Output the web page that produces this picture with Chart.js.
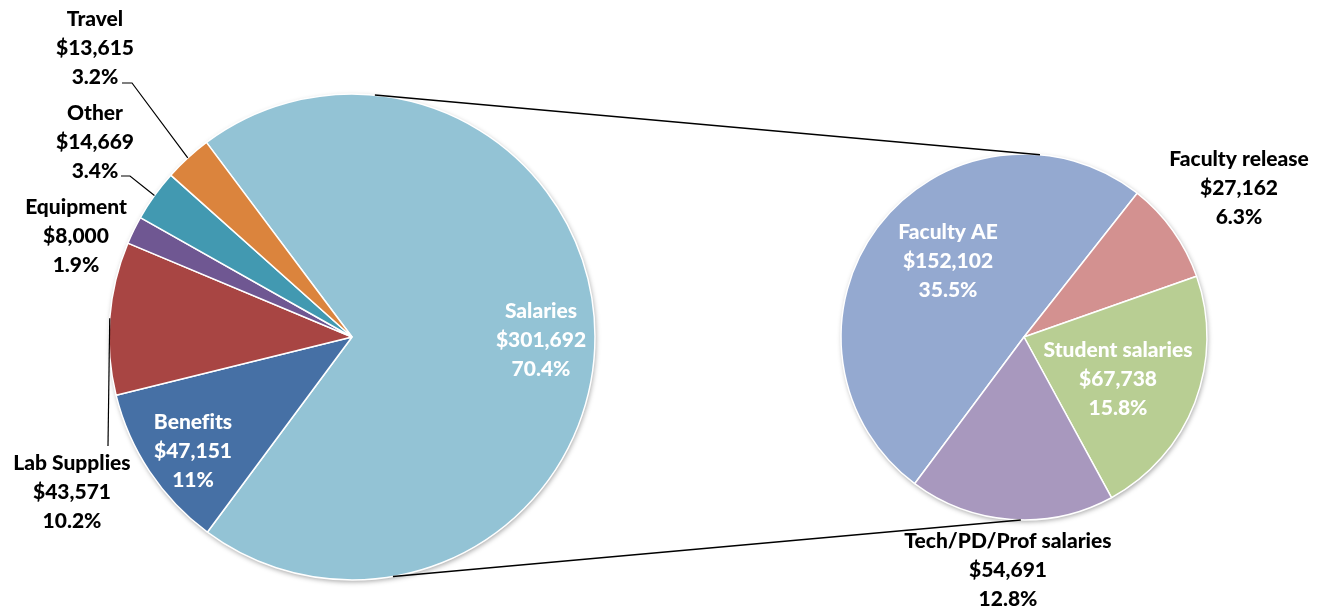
<!DOCTYPE html>
<html>
<head>
<meta charset="utf-8">
<script src="https://cdn.jsdelivr.net/npm/chart.js@4.4.1/dist/chart.umd.min.js"></script>
<style>
  html, body { margin: 0; padding: 0; background: #fff; }
  #wrap { position: relative; width: 1328px; height: 609px; }
  #wrap canvas { position: absolute; left: 0; top: 0; }
</style>
</head>
<body>
<div id="wrap">
  <canvas id="mainPie" width="1328" height="609"></canvas>
  <canvas id="subPie" width="1328" height="609"></canvas>
</div>
<script>
// budget split (left pie) - Salaries is broken out in the right pie
const mainLabels = ['Salaries', 'Benefits', 'Lab Supplies', 'Equipment', 'Other', 'Travel'];
const mainValues = [301692, 47151, 43571, 8000, 14669, 13615];
const mainColors = ['#93c3d5', '#4670a5', '#a84543', '#6f5792', '#4299b1', '#db843d'];

const subLabels = ['Faculty AE', 'Faculty release', 'Student salaries', 'Tech/PD/Prof salaries'];
const subValues = [152102, 27162, 67738, 54691];
const subColors = ['#94a9d0', '#d39190', '#b8ce93', '#a898be'];

// where the label blocks sit (centre of the middle line) and their text colour
const mainLabelPos = [[541, 340], [193, 451], [72, 492], [76, 236], [95, 142], [95, 48]];
const mainLabelInside = [true, true, false, false, false, false];
// leader lines: start point and optional elbow, end is the slice edge
const mainLeaders = [null, null, [[108, 446]], null, [[121, 176], [130, 176]], [[122, 83], [132, 83]]];

const subLabelPos = [[948, 261], [1239, 188], [1118, 379], [1008, 570]];
const subLabelInside = [true, false, true, false];

const grandTotal = mainValues.reduce((a, b) => a + b, 0);
const FONT = '900 21px Lato';
const LINE_H = 29;

function pct(v) {
  let p = (v / grandTotal * 100).toFixed(1);
  if (p.endsWith('.0')) p = p.slice(0, -2);
  return p + '%';
}

function labelPlugin(labels, values, positions, inside, leaders) {
  return {
    id: 'labels',
    afterDatasetsDraw(chart) {
      const ctx = chart.ctx;
      const meta = chart.getDatasetMeta(0);
      ctx.save();
      // leader lines first
      ctx.strokeStyle = '#000';
      ctx.lineWidth = 1.2;
      meta.data.forEach((arc, i) => {
        const ld = leaders && leaders[i];
        if (!ld) return;
        const p = arc.getProps(['x', 'y', 'startAngle', 'endAngle', 'outerRadius'], true);
        const mid = (p.startAngle + p.endAngle) / 2;
        ctx.beginPath();
        ctx.moveTo(ld[0][0], ld[0][1]);
        for (let k = 1; k < ld.length; k++) ctx.lineTo(ld[k][0], ld[k][1]);
        ctx.lineTo(p.x + Math.cos(mid) * p.outerRadius, p.y + Math.sin(mid) * p.outerRadius);
        ctx.stroke();
      });
      ctx.font = FONT;
      ctx.textRendering = 'optimizeSpeed';
      ctx.textAlign = 'center';
      ctx.textBaseline = 'middle';
      labels.forEach((lab, i) => {
        const lines = [lab, '$' + values[i].toLocaleString('en-US'), pct(values[i])];
        const [x, y] = positions[i];
        ctx.fillStyle = inside[i] ? '#fff' : '#000';
        lines.forEach((t, k) => ctx.fillText(t, x, y + (k - 1) * LINE_H));
      });
      ctx.restore();
    }
  };
}

// soft drop shadow behind the pie, like the office chart
const shadowPlugin = {
  id: 'pieShadow',
  beforeDatasetsDraw(chart) {
    const arc = chart.getDatasetMeta(0).data[0];
    if (!arc) return;
    const p = arc.getProps(['x', 'y', 'outerRadius'], true);
    const ctx = chart.ctx;
    ctx.save();
    ctx.shadowColor = 'rgba(0,0,0,0.35)';
    ctx.shadowBlur = 5;
    ctx.shadowOffsetX = 1;
    ctx.shadowOffsetY = 2;
    ctx.beginPath();
    ctx.arc(p.x, p.y, p.outerRadius, 0, Math.PI * 2);
    ctx.fillStyle = '#fff';
    ctx.fill();
    ctx.restore();
  }
};

let mainChart;

// connector lines between the Salaries slice and the second pie
const connectorPlugin = {
  id: 'connectors',
  afterDatasetsDraw(chart) {
    if (!mainChart) return;
    const a = mainChart.getDatasetMeta(0).data[0].getProps(['x', 'y', 'outerRadius'], true);
    const b = chart.getDatasetMeta(0).data[0].getProps(['x', 'y', 'outerRadius'], true);
    const rad = d => d * Math.PI / 180;
    const pairs = [[-84.6, -85], [80.3, 91]];
    const ctx = chart.ctx;
    ctx.save();
    ctx.strokeStyle = '#000';
    ctx.lineWidth = 1.5;
    pairs.forEach(([ang1, ang2]) => {
      ctx.beginPath();
      ctx.moveTo(a.x + Math.cos(rad(ang1)) * a.outerRadius, a.y + Math.sin(rad(ang1)) * a.outerRadius);
      ctx.lineTo(b.x + Math.cos(rad(ang2)) * b.outerRadius, b.y + Math.sin(rad(ang2)) * b.outerRadius);
      ctx.stroke();
    });
    ctx.restore();
  }
};

function baseOptions(padding, radius, rotation) {
  return {
    responsive: false,
    animation: false,
    events: [],
    rotation: rotation,
    radius: radius,
    layout: { padding: padding },
    plugins: { legend: { display: false }, tooltip: { enabled: false } }
  };
}

function draw() {
  mainChart = new Chart(document.getElementById('mainPie'), {
    type: 'pie',
    data: {
      labels: mainLabels,
      datasets: [{
        data: mainValues,
        backgroundColor: mainColors,
        borderColor: '#fff',
        borderWidth: 1.5,
        hoverOffset: 0
      }]
    },
    options: baseOptions({ left: 109, right: 733, top: 94, bottom: 29 }, 243, -36.8),
    plugins: [shadowPlugin, labelPlugin(mainLabels, mainValues, mainLabelPos, mainLabelInside, mainLeaders)]
  });

  new Chart(document.getElementById('subPie'), {
    type: 'pie',
    data: {
      labels: subLabels,
      datasets: [{
        data: subValues,
        backgroundColor: subColors,
        borderColor: '#fff',
        borderWidth: 1.5,
        hoverOffset: 0
      }]
    },
    options: baseOptions({ left: 841, right: 121, top: 154, bottom: 89 }, 183, 216.7),
    plugins: [shadowPlugin, connectorPlugin, labelPlugin(subLabels, subValues, subLabelPos, subLabelInside, null)]
  });
}

document.fonts.load(FONT).then(draw, draw);
</script>
</body>
</html>
